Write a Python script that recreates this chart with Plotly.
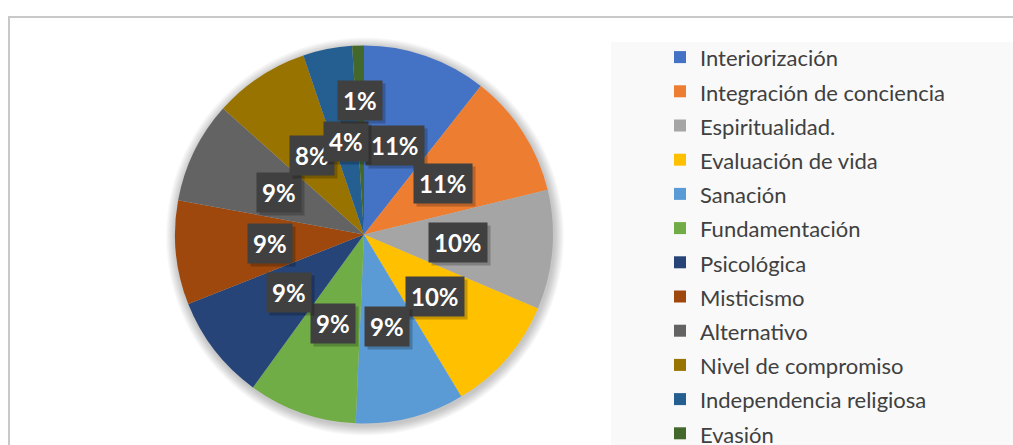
import numpy as np
import plotly.graph_objects as go

W, H = 1013, 445
HF = 470   # figure is a bit taller than the window so the last legend row can run off the bottom

categorias = ["Interiorización", "Integración de conciencia", "Espiritualidad.",
              "Evaluación de vida", "Sanación", "Fundamentación", "Psicológica",
              "Misticismo", "Alternativo", "Nivel de compromiso",
              "Independencia religiosa", "Evasión"]
valores = [10.6, 10.6, 10.2, 10.0, 9.3, 9.3, 9.0, 8.9, 8.7, 8.2, 4.2, 1.0]
colores = ["#4472C4", "#ED7D31", "#A5A5A5", "#FFC000", "#5B9BD5", "#70AD47",
           "#264478", "#9E480E", "#636363", "#997300", "#255E91", "#43682B"]


def fx(x):
    return x / W


def fy(y):
    return (HF - y) / HF


# pie centre and radius in pixels
cx, cy, R = 364, 234.5, 189

fig = go.Figure()
fig.add_trace(go.Pie(
    labels=['<span style="font-size:22px">%s</span>' % c for c in categorias],
    values=valores,
    customdata=categorias,
    marker=dict(colors=colores, line=dict(width=0)),
    sort=False, direction="clockwise", rotation=0,
    textinfo="none",
    hovertemplate="%{customdata}: %{percent}<extra></extra>",
    domain=dict(x=[fx(cx - R), fx(cx + R)], y=[fy(cy + R), fy(cy - R)]),
))

# soft shadow round the pie
shapes = []
for k in range(10, 0, -1):
    rr = R + k
    shapes.append(dict(type="circle", xref="paper", yref="paper", layer="below",
                       x0=fx(cx - rr + 1), x1=fx(cx + rr + 1),
                       y0=fy(cy + rr + 2), y1=fy(cy - rr + 2),
                       fillcolor="rgba(0,0,0,0.022)", line=dict(width=0)))
# legend panel and outer border
shapes.append(dict(type="rect", xref="paper", yref="paper", layer="below",
                   x0=fx(611), x1=1.05, y0=-0.05, y1=fy(42),
                   fillcolor="#F9F9F9", line=dict(width=0)))
shapes.append(dict(type="rect", xref="paper", yref="paper", layer="below",
                   x0=fx(9), x1=1.05, y0=-0.05, y1=fy(17),
                   fillcolor="rgba(0,0,0,0)", line=dict(color="#C8C8C8", width=2)))

# data labels: dark boxes at the middle of each slice
total = sum(valores)
cum = np.cumsum([0] + valores)
annotations = []
for i, v in enumerate(valores):
    share = v / total
    ang = np.deg2rad((cum[i] + v / 2) / total * 360)
    r = 0.5 * R if share >= 0.02 else 0.71 * R
    px_ = cx + r * np.sin(ang)
    py_ = cy - r * np.cos(ang)
    txt = "%d%%" % round(share * 100)
    base = dict(x=fx(px_), y=fy(py_), xref="paper", yref="paper",
                xanchor="center", yanchor="middle",
                text=txt, showarrow=False, borderpad=5)
    shadow = dict(base, xshift=3, yshift=-3, bgcolor="rgba(0,0,0,0.22)",
                  font=dict(family="Lato", size=24, weight="bold", color="rgba(0,0,0,0)"))
    label = dict(base, bgcolor="#404040",
                 font=dict(family="Lato", size=24, weight="bold", color="white"))
    annotations.append(shadow)
    annotations.append(label)

fig.update_layout(
    width=W, height=HF,
    margin=dict(l=0, r=0, t=0, b=0),
    paper_bgcolor="white",
    plot_bgcolor="white",
    shapes=shapes,
    annotations=annotations,
    showlegend=True,
    legend=dict(x=fx(700 - 40), xanchor="left", y=fy(35), yanchor="top",
                bgcolor="rgba(0,0,0,0)",
                font=dict(family="Lato", size=24, color="#404040")),
)

# no body margin / scrollbars, so the figure sits at the window corner
fig.write_html("out.html", config={"displayModeBar": False},
               post_script="document.body.style.margin='0';document.body.style.overflow='hidden';")
